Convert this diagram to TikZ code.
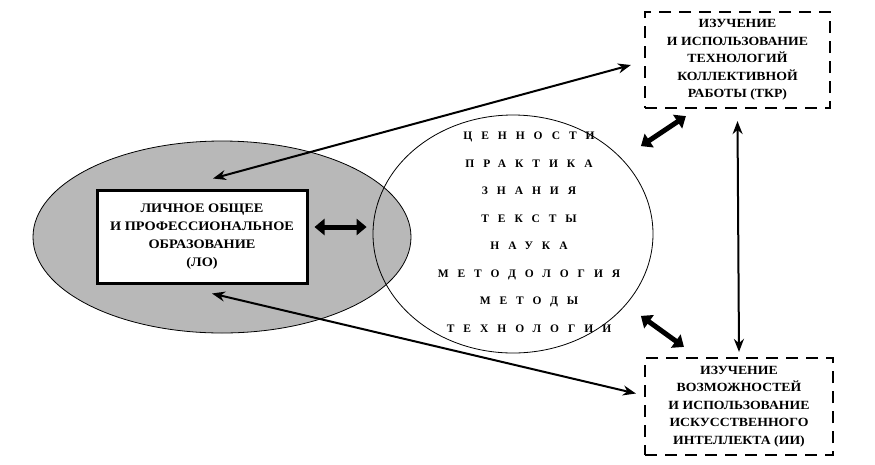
\documentclass[tikz,border=0pt]{standalone}
\usepackage{fontspec}
\setmainfont{Liberation Serif}
\newfontfamily\spaced[LetterSpace=78]{Liberation Serif Bold}
\newfontfamily\boxfont[FakeStretch=1.1]{Liberation Serif Bold}
\usetikzlibrary{arrows.meta,shapes.geometric}
\definecolor{ovalgray}{RGB}{184,184,184}
\begin{document}
\begin{tikzpicture}[x=1pt,y=-1pt,
  boxtext/.style={font=\boxfont\fontsize{13}{18}\selectfont, align=center, inner sep=0pt},
  lobox/.style={draw, line width=3pt, fill=white, minimum width=210pt, minimum height=93pt, boxtext},
  dbox/.style={draw, line width=2.2pt, dash pattern=on 12pt off 8pt, fill=white, boxtext, font=\boxfont\fontsize{12.5}{17.5}\selectfont},
  thinarrow/.style={{Stealth[length=13pt,width=10pt]}-{Stealth[length=13pt,width=10pt]}, line width=2pt},
  fatarrow/.style={{Triangle[length=10pt,width=16pt]}-{Triangle[length=10pt,width=16pt]}, line width=5pt},
  oval/.style={draw, ellipse, line width=0.8pt, inner sep=0pt},
]
\useasboundingbox (0,0) rectangle (875,464);
\node[oval, fill=ovalgray, minimum width=378pt, minimum height=192pt] (gray) at (222,237) {};
\node[oval, minimum width=280pt, minimum height=238pt] (circ) at (513,234) {};
\node[align=center, inner sep=0pt, font=\spaced\fontsize{11.5}{27.5}\selectfont] (words) at (529,232)
  {ЦЕННОСТИ\\ПРАКТИКА\\ЗНАНИЯ\\ТЕКСТЫ\\НАУКА\\МЕТОДОЛОГИЯ\\МЕТОДЫ\\ТЕХНОЛОГИИ};
\node[lobox] (lo) at (202,236.5) {ЛИЧНОЕ ОБЩЕЕ\\И ПРОФЕССИОНАЛЬНОЕ\\ОБРАЗОВАНИЕ\\(ЛО)};
\node[dbox, minimum width=185pt, minimum height=96pt] (tkr) at (737.5,60)
  {ИЗУЧЕНИЕ\\И ИСПОЛЬЗОВАНИЕ\\ТЕХНОЛОГИЙ\\КОЛЛЕКТИВНОЙ\\РАБОТЫ (ТКР)};
\node[dbox, minimum width=188pt, minimum height=97pt] (ii) at (739,406.5)
  {ИЗУЧЕНИЕ\\ВОЗМОЖНОСТЕЙ\\И ИСПОЛЬЗОВАНИЕ\\ИСКУССТВЕННОГО\\ИНТЕЛЛЕКТА (ИИ)};
\draw[thinarrow] ([xshift=11pt,yshift=10pt]lo.north) -- ([xshift=-13pt,yshift=-5pt]tkr.west);
\draw[thinarrow] ([xshift=10pt,yshift=-9pt]lo.south) -- ([xshift=-8pt,yshift=13pt]ii.west);
\draw[fatarrow] ([xshift=6pt,yshift=9.5pt]lo.east) -- ([xshift=-6pt,yshift=7pt]circ.west);
\draw[fatarrow] ([xshift=-3pt,yshift=-37pt]tkr.south west) -- ([xshift=42pt,yshift=-7pt]tkr.south west);
\draw[fatarrow] ([xshift=-3pt,yshift=41pt]ii.north west) -- ([xshift=40pt,yshift=10pt]ii.north west);
\draw[thinarrow] ([yshift=-12pt]tkr.south) -- ([yshift=5pt]ii.north);
\end{tikzpicture}
\end{document}
